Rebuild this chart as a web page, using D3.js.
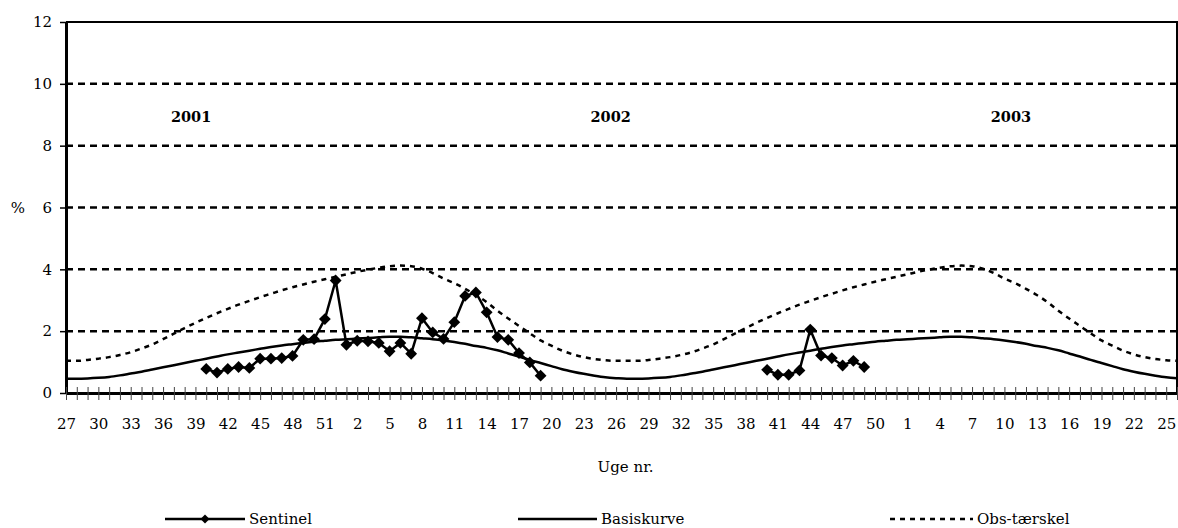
<!DOCTYPE html>
<html>
<head>
<meta charset="utf-8">
<script src="https://cdn.jsdelivr.net/npm/d3@7"></script>
<style>
  body { margin: 0; background: #fff; }
  text { font-family: "DejaVu Serif", serif; }
</style>
</head>
<body>
<div id="chart"></div>
<script>
// week numbers, 2001 w27 .. 2003 w26
const weeks = [
  27, 28, 29, 30, 31, 32, 33, 34, 35, 36, 37, 38, 39, 40, 41, 42, 43, 44, 45, 46, 47, 48, 49, 50, 51, 52,
  1, 2, 3, 4, 5, 6, 7, 8, 9, 10, 11, 12, 13, 14, 15, 16, 17, 18, 19, 20, 21, 22, 23, 24, 25, 26,
  27, 28, 29, 30, 31, 32, 33, 34, 35, 36, 37, 38, 39, 40, 41, 42, 43, 44, 45, 46, 47, 48, 49, 50, 51, 52,
  1, 2, 3, 4, 5, 6, 7, 8, 9, 10, 11, 12, 13, 14, 15, 16, 17, 18, 19, 20, 21, 22, 23, 24, 25, 26
];
const startYear = 2001;

// sentinel seasons (first week given as year/week)
const sentinelSeason1Start = [2001, 40];
const sentinelSeason1 = [0.78, 0.66, 0.78, 0.84, 0.81, 1.11, 1.11, 1.13, 1.20, 1.72, 1.74, 2.39, 3.64,
  1.56, 1.69, 1.67, 1.62, 1.35, 1.62, 1.27, 2.42, 1.96, 1.75, 2.29, 3.14, 3.25, 2.61, 1.81, 1.72, 1.29, 0.99, 0.56];
const sentinelSeason2Start = [2002, 40];
const sentinelSeason2 = [0.75, 0.59, 0.59, 0.73, 2.05, 1.21, 1.13, 0.89, 1.04, 0.84];

const basiskurve = [
  0.46, 0.46, 0.47, 0.49, 0.52, 0.57, 0.63, 0.69, 0.76, 0.83, 0.90, 0.97, 1.04, 1.11, 1.18, 1.25, 1.31, 1.37, 1.43, 1.49, 1.54, 1.58, 1.62, 1.66, 1.69, 1.72,
  1.74, 1.76, 1.78, 1.80, 1.82, 1.82, 1.80, 1.77, 1.74, 1.70, 1.65, 1.59, 1.52, 1.46, 1.38, 1.28, 1.18, 1.07, 0.97, 0.87, 0.77, 0.69, 0.62, 0.56, 0.51, 0.48,
  0.46, 0.46, 0.47, 0.49, 0.52, 0.57, 0.63, 0.69, 0.76, 0.83, 0.90, 0.97, 1.04, 1.11, 1.18, 1.25, 1.31, 1.37, 1.43, 1.49, 1.54, 1.58, 1.62, 1.66, 1.69, 1.72,
  1.74, 1.76, 1.78, 1.80, 1.82, 1.82, 1.80, 1.77, 1.74, 1.70, 1.65, 1.59, 1.52, 1.46, 1.38, 1.28, 1.18, 1.07, 0.97, 0.87, 0.77, 0.69, 0.62, 0.56, 0.51, 0.48
];
const obsTaerskel = [
  1.04, 1.04, 1.07, 1.11, 1.16, 1.23, 1.32, 1.44, 1.57, 1.74, 1.92, 2.10, 2.27, 2.43, 2.58, 2.72, 2.86, 2.98, 3.10, 3.21, 3.32, 3.42, 3.51, 3.60, 3.68, 3.76,
  3.84, 3.92, 3.99, 4.05, 4.10, 4.12, 4.10, 4.02, 3.88, 3.70, 3.55, 3.37, 3.17, 2.94, 2.66, 2.41, 2.17, 1.93, 1.70, 1.53, 1.37, 1.25, 1.16, 1.10, 1.06, 1.04,
  1.04, 1.04, 1.07, 1.11, 1.16, 1.23, 1.32, 1.44, 1.57, 1.74, 1.92, 2.10, 2.27, 2.43, 2.58, 2.72, 2.86, 2.98, 3.10, 3.21, 3.32, 3.42, 3.51, 3.60, 3.68, 3.76,
  3.84, 3.92, 3.99, 4.05, 4.10, 4.12, 4.10, 4.02, 3.88, 3.70, 3.55, 3.37, 3.17, 2.94, 2.66, 2.41, 2.17, 1.93, 1.70, 1.53, 1.37, 1.25, 1.16, 1.10, 1.06, 1.04
];

const yTicks = [0, 2, 4, 6, 8, 10, 12];
const yearLabels = ['2001', '2002', '2003'];

const W = 1178, H = 528;
const mLeft = 66, mRight = 1177, mTop = 22, mBottom = 393;
const font = '"DejaVu Serif", serif';

// year for every week index
const years = [];
let yr = startYear;
weeks.forEach(function(w, i){
  if (i > 0 && w < weeks[i - 1]) yr++;
  years.push(yr);
});
function weekIndex(yw){
  return weeks.findIndex(function(w, i){ return years[i] == yw[0] && w == yw[1]; });
}

// sentinel spread over the full week range, null where there is no data
const sentinel = weeks.map(function(){ return null; });
[[sentinelSeason1Start, sentinelSeason1], [sentinelSeason2Start, sentinelSeason2]].forEach(function(s){
  const i0 = weekIndex(s[0]);
  s[1].forEach(function(v, j){ sentinel[i0 + j] = v; });
});

const svg = d3.select('#chart').append('svg')
  .attr('width', W)
  .attr('height', H);

const x = d3.scaleLinear().domain([0, weeks.length - 1]).range([mLeft, mRight]);
const y = d3.scaleLinear().domain([0, 12]).range([mBottom, mTop]);

// dashed gridlines
svg.append('g').selectAll('line')
  .data(yTicks.filter(function(d){ return d > 0 && d < 12; }))
  .enter().append('line')
  .attr('x1', mLeft).attr('x2', mRight)
  .attr('y1', function(d){ return y(d); })
  .attr('y2', function(d){ return y(d); })
  .attr('stroke', '#000')
  .attr('stroke-width', 2.5)
  .attr('stroke-dasharray', '7,5');

// plot border top + right
svg.append('path')
  .attr('d', 'M' + mLeft + ',' + y(12) + 'H' + mRight + 'V' + mBottom)
  .attr('fill', 'none')
  .attr('stroke', '#000')
  .attr('stroke-width', 2);

// y axis
const gy = svg.append('g')
  .attr('transform', 'translate(' + mLeft + ',0)')
  .call(d3.axisLeft(y).tickValues(yTicks).tickSize(6).tickSizeOuter(0).tickPadding(8));
gy.attr('font-size', 15).attr('font-family', font);
gy.select('.domain').attr('stroke-width', 3);
gy.selectAll('.tick line').attr('stroke-width', 1.5);

// x axis, a tick on every week, a label on every third
const gx = svg.append('g')
  .attr('transform', 'translate(0,' + mBottom + ')')
  .call(d3.axisBottom(x)
    .tickValues(d3.range(weeks.length))
    .tickSize(7).tickSizeOuter(0)
    .tickFormat(function(i){ return i % 3 == 0 ? weeks[i] : ''; }));
gx.attr('font-size', 15).attr('font-family', font);
gx.select('.domain').attr('stroke-width', 3);
gx.selectAll('.tick line').attr('y1', -6).attr('stroke', '#444').attr('stroke-width', 1);
gx.selectAll('.tick text').attr('y', 36).attr('dy', 0);

// axis titles
svg.append('text').attr('x', 18).attr('y', 213).attr('text-anchor', 'middle')
  .attr('font-size', 15).text('%');
svg.append('text').attr('x', (mLeft + mRight) / 2 + 4).attr('y', 472).attr('text-anchor', 'middle')
  .attr('font-size', 15).text('Uge nr.');

// year annotations
const yearPos = [11.6, 50.5, 87.6];
svg.selectAll('.year').data(yearLabels).enter().append('text')
  .attr('class', 'year')
  .attr('x', function(d, i){ return x(yearPos[i]); })
  .attr('y', y(8.75))
  .attr('text-anchor', 'middle')
  .attr('font-size', 14.5)
  .attr('font-weight', 'bold')
  .text(function(d){ return d; });

// lines
const line = d3.line()
  .defined(function(d){ return d != null; })
  .x(function(d, i){ return x(i); })
  .y(function(d){ return y(d); });

svg.append('path').datum(obsTaerskel)
  .attr('d', line.curve(d3.curveMonotoneX))
  .attr('fill', 'none').attr('stroke', '#000')
  .attr('stroke-width', 2.5).attr('stroke-dasharray', '5,5');

svg.append('path').datum(basiskurve)
  .attr('d', line.curve(d3.curveMonotoneX))
  .attr('fill', 'none').attr('stroke', '#000')
  .attr('stroke-width', 2.5);

svg.append('path').datum(sentinel)
  .attr('d', line.curve(d3.curveLinear))
  .attr('fill', 'none').attr('stroke', '#000')
  .attr('stroke-width', 2.5);

const diamond = d3.symbol().type(d3.symbolSquare).size(70);
svg.selectAll('.pt')
  .data(sentinel.map(function(v, i){ return [i, v]; }).filter(function(d){ return d[1] != null; }))
  .enter().append('path')
  .attr('class', 'pt')
  .attr('d', diamond)
  .attr('transform', function(d){ return 'translate(' + x(d[0]) + ',' + y(d[1]) + ') rotate(45)'; })
  .attr('fill', '#000');

// legend
const legY = 519;
const lg = svg.append('g');
lg.append('line').attr('x1', 165).attr('x2', 245).attr('y1', legY).attr('y2', legY)
  .attr('stroke', '#000').attr('stroke-width', 2.5);
lg.append('path').attr('d', d3.symbol().type(d3.symbolSquare).size(40))
  .attr('transform', 'translate(205,' + legY + ') rotate(45)');
lg.append('text').attr('x', 249).attr('y', legY + 5).attr('font-size', 15).text('Sentinel');

lg.append('line').attr('x1', 518).attr('x2', 597).attr('y1', legY).attr('y2', legY)
  .attr('stroke', '#000').attr('stroke-width', 2.5);
lg.append('text').attr('x', 601).attr('y', legY + 5).attr('font-size', 15).text('Basiskurve');

lg.append('line').attr('x1', 890).attr('x2', 973).attr('y1', legY).attr('y2', legY)
  .attr('stroke', '#000').attr('stroke-width', 2.5).attr('stroke-dasharray', '5,5');
lg.append('text').attr('x', 977).attr('y', legY + 5).attr('font-size', 15).text('Obs-tærskel');
</script>
</body>
</html>
